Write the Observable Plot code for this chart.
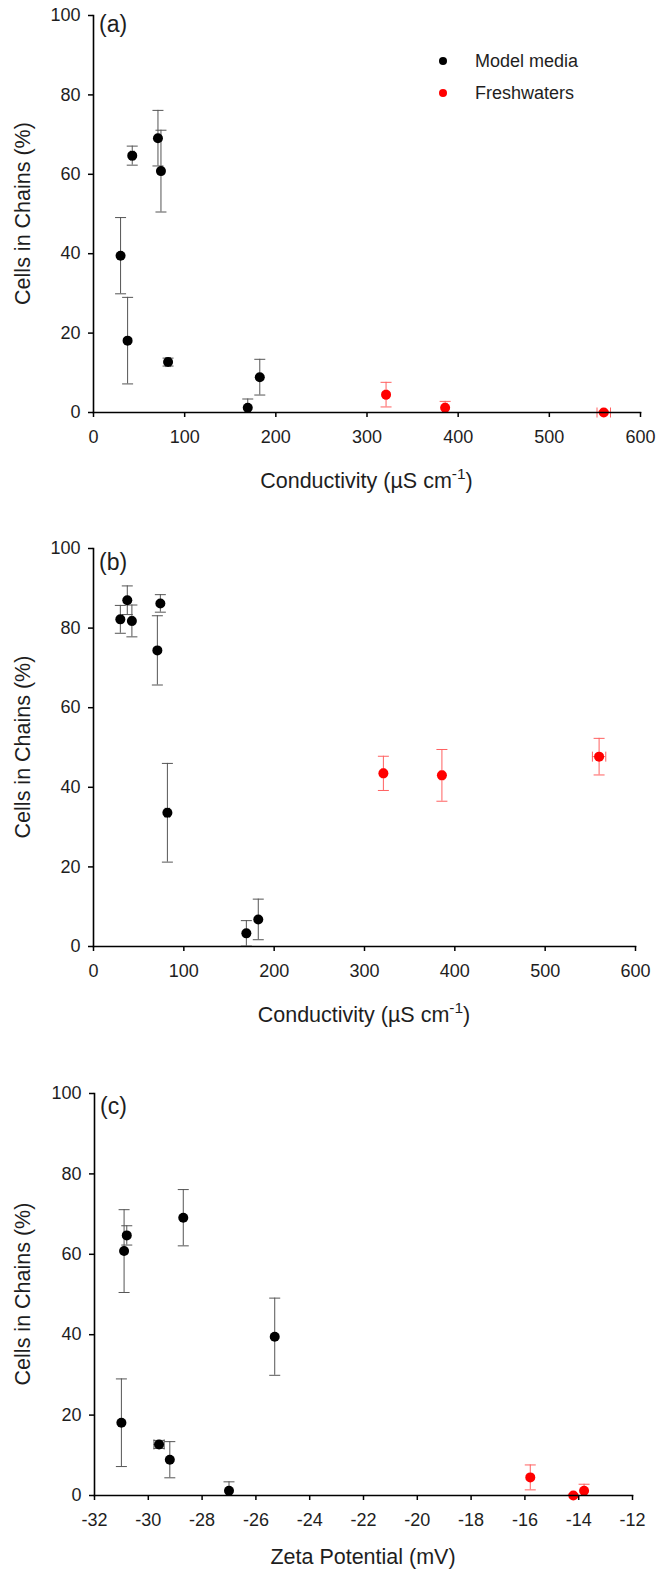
<!DOCTYPE html>
<html>
<head>
<meta charset="utf-8">
<script src="https://cdn.jsdelivr.net/npm/d3@7"></script>
<script src="https://cdn.jsdelivr.net/npm/@observablehq/plot@0.6"></script>
<style>
  html, body { margin: 0; padding: 0; background: #fff; }
  #chart { width: 656px; height: 1578px; position: relative; }
  #chart svg { display: block; }
</style>
</head>
<body>
<div id="chart"></div>
<script>
// ---------- Data ----------
const seriesNames = ["Model media", "Freshwaters"];
const seriesColors = ["#000000", "#ff0000"];
const errColors = ["#555555", "#ff6060"];

// Model media: conductivity (µS cm-1) and zeta potential (mV)
const condModel = [29.7, 37.4, 42.5, 70.7, 74.0, 81.8, 169.2, 182.4];
const condModelErr = [0, 0, 2, 0, 0, 2.5, 0, 0];
const zetaModel = [-25.3, -31.0, -30.8, -28.7, -30.9, -29.6, -27.0, -29.2];
const zetaModelErr = [0, 0, 0, 0, 0, 0.19, 0, 0];
// Cells in chains (%), panels (a) and (c)
const chainsModelA = [39.5, 18.1, 64.7, 69.1, 60.8, 12.7, 1.2, 8.9];
const chainsModelAErr = [9.6, 10.9, 2.4, 7.0, 10.3, 1.0, 2.2, 4.5];
// Cells in chains (%), panel (b)
const chainsModelB = [82.2, 87.0, 81.8, 74.4, 86.2, 33.6, 3.3, 6.8];
const chainsModelBErr = [3.5, 3.6, 4.0, 8.7, 2.2, 12.4, 3.2, 5.1];

// Freshwaters
const condFresh = [320.9, 385.7, 559.7];
const condFreshErr = [1.5, 2, 7.4];
const zetaFresh = [-15.8, -13.8, -14.2];
const zetaFreshErr = [0, 0, 0];
const chainsFreshA = [4.5, 1.2, 0.0];
const chainsFreshAErr = [3.1, 1.6, 0.3];
const chainsFreshB = [43.5, 43.0, 47.7];
const chainsFreshBErr = [4.3, 6.5, 4.6];

// Axis ticks
const yTicks = [0, 20, 40, 60, 80, 100];
const condTicks = [0, 100, 200, 300, 400, 500, 600];
const zetaTicks = [-32, -30, -28, -26, -24, -22, -20, -18, -16, -14, -12];

const FONT = "'Liberation Sans', Arial, Helvetica, sans-serif";
const TEXT = "#1e1e1e";

// cap symbols (constant pixel width)
const hCap = { draw(ctx, size) { const r = Math.sqrt(size / Math.PI); ctx.moveTo(-r, 0); ctx.lineTo(r, 0); } };
const vCap = { draw(ctx, size) { const r = Math.sqrt(size / Math.PI); ctx.moveTo(0, -r); ctx.lineTo(0, r); } };

function rows(xs, xe, ys, ye) {
  return xs.map((x, i) => ({ x, xe: xe[i], y: ys[i], ye: ye[i] }));
}

function seriesMarks(data, k) {
  const ec = errColors[k];
  const withY = data.filter(d => d.ye > 0);
  const withX = data.filter(d => d.xe > 0);
  return [
    Plot.ruleX(withY, { x: "x", y1: d => Math.max(0, d.y - d.ye), y2: d => d.y + d.ye, stroke: ec, strokeWidth: 1 }),
    Plot.dot(withY, { x: "x", y: d => d.y + d.ye, symbol: hCap, r: 5.5, stroke: ec, fill: "none", strokeWidth: 1 }),
    Plot.dot(withY.filter(d => d.y - d.ye > 0), { x: "x", y: d => d.y - d.ye, symbol: hCap, r: 5.5, stroke: ec, fill: "none", strokeWidth: 1 }),
    Plot.ruleY(withX, { y: "y", x1: d => d.x - d.xe, x2: d => d.x + d.xe, stroke: ec, strokeWidth: 1 }),
    Plot.dot(withX, { x: d => d.x - d.xe, y: "y", symbol: vCap, r: 5, stroke: ec, fill: "none", strokeWidth: 1 }),
    Plot.dot(withX, { x: d => d.x + d.xe, y: "y", symbol: vCap, r: 5, stroke: ec, fill: "none", strokeWidth: 1 }),
    Plot.dot(data, { x: "x", y: "y", r: 5, fill: seriesColors[k], stroke: "none" })
  ];
}

function makePanel(o) {
  const svg = Plot.plot({
    width: 656,
    height: o.height,
    marginTop: o.mt, marginBottom: o.mb, marginLeft: o.ml, marginRight: o.mr,
    style: { fontFamily: FONT, background: "white", color: TEXT, overflow: "visible" },
    x: { domain: o.xDomain, ticks: o.xTicks },
    y: { domain: [0, 100], ticks: yTicks },
    marks: [
      ...seriesMarks(o.model, 0),
      ...seriesMarks(o.fresh, 1),
      Plot.frame({ anchor: "left", stroke: "#000", strokeWidth: 1.6 }),
      Plot.frame({ anchor: "bottom", stroke: "#000", strokeWidth: 1.6 }),
      Plot.axisX({ ticks: o.xTicks, tickSize: 5, tickPadding: 13, fontSize: 18, label: null, stroke: "#000", strokeWidth: 1.5, tickFormat: d => String(d), fill: TEXT }),
      Plot.axisY({ ticks: yTicks, tickSize: 5, tickPadding: 8, fontSize: 18, label: null, stroke: "#000", strokeWidth: 1.5, tickFormat: d => String(d), fill: TEXT })
    ]
  });
  const s = d3.select(svg);
  const plotCx = o.ml + (656 - o.ml - o.mr) / 2;
  const plotCy = o.mt + (o.height - o.mt - o.mb) / 2;
  // y title
  s.append("text")
    .attr("transform", `translate(23,${plotCy}) rotate(-90)`)
    .attr("text-anchor", "middle").attr("dominant-baseline", "central")
    .attr("font-family", FONT).attr("font-size", 21.5).attr("fill", TEXT)
    .text("Cells in Chains (%)");
  // x title
  const xt = s.append("text")
    .attr("x", plotCx).attr("y", o.height - o.mb + o.xTitleOff)
    .attr("text-anchor", "middle")
    .attr("font-family", FONT).attr("font-size", 21.5).attr("fill", TEXT);
  if (o.sup) {
    xt.append("tspan").text(o.xTitle);
    xt.append("tspan").attr("font-size", 15.5).attr("dy", -9).text(o.sup);
    xt.append("tspan").attr("dy", 9).text(")");
  } else {
    xt.text(o.xTitle);
  }
  // panel label
  s.append("text")
    .attr("x", o.ml + 6).attr("y", o.labelY)
    .attr("text-anchor", "start")
    .attr("font-family", FONT).attr("font-size", 23).attr("fill", TEXT)
    .text(o.label);
  if (o.legend) {
    seriesNames.forEach((name, i) => {
      const y = 61 + i * 32;
      s.append("circle").attr("cx", 443).attr("cy", y).attr("r", 4).attr("fill", seriesColors[i]);
      s.append("text").attr("x", 475).attr("y", y).attr("dominant-baseline", "central")
        .attr("text-anchor", "start")
        .attr("font-family", FONT).attr("font-size", 18).attr("fill", TEXT).text(name);
    });
  }
  return svg;
}

const root = document.getElementById("chart");

root.appendChild(makePanel({
  height: 500, mt: 15, mb: 88, ml: 93, mr: 16,
  xDomain: [0, 600], xTicks: condTicks,
  model: rows(condModel, condModelErr, chainsModelA, chainsModelAErr),
  fresh: rows(condFresh, condFreshErr, chainsFreshA, chainsFreshAErr),
  xTitle: "Conductivity (\u00b5S cm", sup: "-1", xTitleOff: 76,
  label: "(a)", labelY: 32, legend: true
}));

root.appendChild(makePanel({
  height: 540, mt: 48, mb: 94, ml: 93, mr: 21,
  xDomain: [0, 600], xTicks: condTicks,
  model: rows(condModel, condModelErr, chainsModelB, chainsModelBErr),
  fresh: rows(condFresh, condFreshErr, chainsFreshB, chainsFreshBErr),
  xTitle: "Conductivity (\u00b5S cm", sup: "-1", xTitleOff: 76,
  label: "(b)", labelY: 70, legend: false
}));

root.appendChild(makePanel({
  height: 538, mt: 53, mb: 83, ml: 94, mr: 24,
  xDomain: [-32, -12], xTicks: zetaTicks,
  model: rows(zetaModel, zetaModelErr, chainsModelA, chainsModelAErr),
  fresh: rows(zetaFresh, zetaFreshErr, chainsFreshA, chainsFreshAErr),
  xTitle: "Zeta Potential (mV)", sup: null, xTitleOff: 69,
  label: "(c)", labelY: 74, legend: false
}));
</script>
</body>
</html>
